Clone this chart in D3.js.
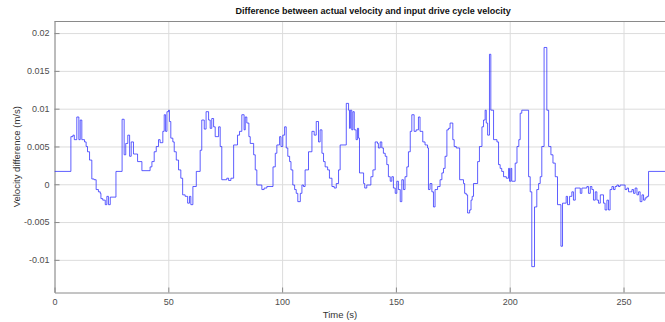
<!DOCTYPE html>
<html>
<head>
<meta charset="utf-8">
<script src="https://cdn.jsdelivr.net/npm/d3@7"></script>
<style>
  body { margin: 0; background: #fff; }
  svg { display: block; font-family: "Liberation Sans", Arial, sans-serif; }
  .grid line { stroke: #dcdcdc; stroke-width: 1; }
  .grid path { display: none; }
  .axis path, .axis line { stroke: #8a8a8a; }
  .axis text { fill: #4d4d4d; font-size: 9px; }
</style>
</head>
<body>
<script>
// breakpoints of the step signal (time in s, velocity difference in m/s)
const stepTimes = [0, 7.2, 8.1, 8.7, 9.8, 10.7, 11.3, 12.0, 13.2, 13.9, 14.5, 15.4, 16.4, 17.4, 18.3, 19.3, 20.1, 20.4, 21.2, 22.3,
  23.0, 23.7, 24.5, 27.0, 29.7, 30.6, 31.3, 32.2, 33.0, 33.7, 34.7, 36.5, 38.4, 42.0, 42.8, 43.8, 44.7, 45.7, 46.4, 47.6,
  48.2, 48.8, 49.4, 50.1, 50.5, 51.1, 52.0, 52.6, 53.5, 54.5, 55.5, 56.3, 57.4, 58.5, 59.3, 59.9, 60.8, 62.3, 64.0, 64.7,
  65.8, 66.6, 67.7, 68.4, 69.1, 69.9, 70.6, 72.1, 72.8, 73.5, 75.7, 76.5, 77.5, 78.7, 80.4, 81.3, 82.3, 83.3, 83.8, 84.5,
  85.4, 86.0, 87.5, 88.2, 88.9, 91.1, 92.1, 93.3, 96.0, 97.0, 97.7, 98.9, 99.5, 100.3, 101.1, 101.8, 102.5, 103.3, 103.9, 104.7,
  105.5, 106.2, 106.9, 108.0, 108.7, 109.4, 110.1, 111.6, 113.1, 114.1, 115.0, 116.0, 116.7, 117.5, 118.2, 118.9, 120.0, 120.8, 121.9, 122.9,
  123.8, 124.8, 125.5, 128.2, 129.2, 129.6, 130.0, 130.6, 131.1, 131.7, 132.5, 133.1, 133.6, 134.0, 135.8, 136.3, 137.2, 139.0, 139.9, 140.9,
  141.9, 142.3, 143.1, 143.8, 144.5, 145.3, 146.0, 146.7, 147.5, 148.2, 148.9, 149.7, 150.4, 151.1, 151.9, 152.6, 153.3, 154.0, 154.8, 155.5,
  156.3, 157.0, 158.0, 158.9, 159.9, 160.6, 161.8, 162.8, 163.9, 164.3, 165.0, 165.8, 166.5, 167.2, 168.3, 169.4, 170.2, 170.9, 171.6, 172.4,
  173.1, 173.8, 175.0, 175.6, 176.5, 178.0, 179.7, 180.2, 180.9, 181.5, 182.4, 183.0, 183.5, 184.1, 185.9, 186.7, 187.8, 188.5, 189.2, 189.7,
  190.3, 191.1, 191.7, 192.9, 194.4, 195.1, 195.8, 196.5, 197.3, 198.5, 199.5, 199.9, 200.5, 200.9, 202.4, 203.2, 204.0, 204.6, 205.3, 208.3,
  209.0, 209.7, 210.9, 211.9, 212.7, 213.4, 214.1, 215.1, 216.3, 217.1, 218.1, 219.0, 220.0, 221.0, 222.5, 223.2, 224.8, 225.4, 226.3, 227.3,
  228.0, 228.8, 231.0, 231.7, 233.9, 234.6, 235.4, 236.1, 236.8, 237.6, 238.3, 239.0, 239.8, 241.2, 241.9, 242.7, 243.4, 244.1, 244.9, 245.6,
  246.3, 247.1, 247.8, 248.5, 250.7, 251.5, 252.2, 253.7, 254.4, 255.1, 255.9, 256.6, 257.3, 258.1, 258.8, 259.5, 260.3, 261.0, 275]
const stepValues = [0.0017, 0.0063, 0.0065, 0.0059, 0.0089, 0.0059, 0.0085, 0.0059, 0.0056, 0.0050, 0.0043, 0.0032, 0.0007, 0.0006, -0.0007, -0.0010, -0.0012, -0.0019, -0.0021, -0.0027,
  -0.0016, -0.0027, -0.0017, 0.0017, 0.0086, 0.0039, 0.0054, 0.0065, 0.0037, 0.0056, 0.0040, 0.0030, 0.0018, 0.0023, 0.0030, 0.0043, 0.0050, 0.0059, 0.0055, 0.0070,
  0.0092, 0.0070, 0.0096, 0.0098, 0.0083, 0.0061, 0.0056, 0.0043, 0.0032, 0.0019, 0.0008, -0.0014, -0.0016, -0.0025, -0.0016, -0.0027, -0.0003, 0.0017, 0.0045, 0.0085,
  0.0073, 0.0096, 0.0085, 0.0074, 0.0087, 0.0076, 0.0063, 0.0076, 0.0050, 0.0006, 0.0008, 0.0005, 0.0008, 0.0052, 0.0065, 0.0070, 0.0092, 0.0072, 0.0089, 0.0081,
  0.0063, 0.0054, 0.0039, 0.0019, -0.0001, -0.0007, -0.0005, -0.0003, 0.0023, 0.0041, 0.0052, 0.0063, 0.0050, 0.0065, 0.0076, 0.0048, 0.0037, 0.0030, 0.0019, -0.0001,
  -0.0007, -0.0012, -0.0023, -0.0012, -0.0001, -0.0003, 0.0019, 0.0043, 0.0070, 0.0065, 0.0083, 0.0056, 0.0072, 0.0041, 0.0030, 0.0023, 0.0019, 0.0008, -0.0003, -0.0005,
  0.0001, 0.0019, 0.0052, 0.0107, 0.0098, 0.0074, 0.0098, 0.0072, 0.0096, 0.0072, 0.0059, 0.0074, 0.0061, 0.0015, 0.0001, -0.0005, -0.0001, 0.0010, 0.0019, 0.0056,
  0.0054, 0.0048, 0.0056, 0.0048, 0.0041, 0.0037, 0.0026, 0.0010, 0.0004, 0.0010, -0.0005, -0.0012, 0.0004, -0.0007, -0.0023, 0.0006, -0.0007, 0.0010, 0.0023, 0.0043,
  0.0070, 0.0092, 0.0070, 0.0072, 0.0089, 0.0070, 0.0056, 0.0052, 0.0048, -0.0007, 0.0001, -0.0010, -0.0030, -0.0007, -0.0003, 0.0006, 0.0015, 0.0021, 0.0037, 0.0072,
  0.0074, 0.0081, 0.0059, 0.0050, 0.0048, 0.0006, 0.0001, -0.0012, -0.0014, -0.0038, -0.0034, -0.0021, -0.0016, 0.0001, 0.0030, 0.0050, 0.0076, 0.0085, 0.0098, 0.0081,
  0.0065, 0.0172, 0.0098, 0.0059, 0.0056, 0.0026, 0.0021, 0.0017, 0.0010, 0.0008, 0.0021, 0.0004, 0.0021, 0.0004, 0.0028, 0.0050, 0.0059, 0.0094, 0.0098, 0.0010,
  -0.0010, -0.0109, -0.0030, -0.0007, 0.0001, 0.0010, 0.0050, 0.0181, 0.0098, 0.0050, 0.0039, 0.0028, 0.0010, -0.0027, -0.0082, -0.0025, -0.0016, -0.0027, -0.0016, -0.0010,
  -0.0021, -0.0005, -0.0012, -0.0005, -0.0003, -0.0012, -0.0003, -0.0007, -0.0021, -0.0010, -0.0021, -0.0025, -0.0014, -0.0025, -0.0034, -0.0021, -0.0034, -0.0007, -0.0003, -0.0007,
  -0.0003, -0.0001, -0.0003, -0.0001, -0.0007, -0.0005, -0.0010, -0.0007, -0.0012, -0.0005, -0.0014, -0.0010, -0.0023, -0.0014, -0.0021, -0.0018, -0.0016, 0.0017, 0.0017]

const xTicks = [0, 50, 100, 150, 200, 250]
const yTicks = [-0.01, -0.005, 0, 0.005, 0.01, 0.015, 0.02]

const W = 665, H = 322
const mLeft = 54.5, mTop = 21, mBottom = 292.5, mRight = 691.8

const svg = d3.select('body').append('svg').attr('width', W).attr('height', H)

const x = d3.scaleLinear().domain([0, 280]).range([mLeft, mRight])
const y = d3.scaleLinear().domain([-0.01432, 0.0216]).range([mBottom, mTop])

// grid
svg.append('g').attr('class', 'grid')
  .attr('transform', `translate(0, ${mBottom})`)
  .call(d3.axisBottom(x).tickValues(xTicks).tickSize(-(mBottom - mTop)).tickFormat(''))
svg.append('g').attr('class', 'grid')
  .attr('transform', `translate(${mLeft}, 0)`)
  .call(d3.axisLeft(y).tickValues(yTicks).tickSize(-(mRight - mLeft)).tickFormat(''))

// box top
svg.append('line').attr('x1', mLeft).attr('x2', mRight).attr('y1', mTop + 0.5).attr('y2', mTop + 0.5)
  .attr('stroke', '#8a8a8a')

const fmt = d => String(+d.toFixed(3))

svg.append('g').attr('class', 'axis')
  .attr('transform', `translate(0, ${mBottom})`)
  .call(d3.axisBottom(x).tickValues(xTicks).tickSize(-5).tickSizeOuter(0).tickPadding(6).tickFormat(fmt))
svg.append('g').attr('class', 'axis')
  .attr('transform', `translate(${mLeft}, 0)`)
  .call(d3.axisLeft(y).tickValues(yTicks).tickSize(-5).tickSizeOuter(0).tickPadding(5).tickFormat(fmt))

// signal
svg.append('clipPath').attr('id', 'clip')
  .append('rect').attr('x', mLeft).attr('y', mTop).attr('width', mRight - mLeft).attr('height', mBottom - mTop)

const pts = stepTimes.map((t, i) => [t, stepValues[i]])
const line = d3.line().x(d => x(d[0])).y(d => y(d[1])).curve(d3.curveStepAfter)

svg.append('path')
  .attr('clip-path', 'url(#clip)')
  .attr('d', line(pts))
  .attr('fill', 'none')
  .attr('stroke', '#2a2aff')
  .attr('stroke-width', 0.75)

// texts
svg.append('text')
  .attr('x', (mLeft + mRight) / 2).attr('y', 14)
  .attr('text-anchor', 'middle')
  .attr('font-size', 9).attr('font-weight', 'bold').attr('fill', '#111')
  .text('Difference between actual velocity and input drive cycle velocity')

svg.append('text')
  .attr('x', 340).attr('y', 318)
  .attr('text-anchor', 'middle')
  .attr('font-size', 9.5).attr('fill', '#333')
  .text('Time (s)')

svg.append('text')
  .attr('transform', `translate(20, ${(mTop + mBottom) / 2}) rotate(-90)`)
  .attr('text-anchor', 'middle')
  .attr('font-size', 9.5).attr('fill', '#333')
  .text('Velocity difference (m/s)')
</script>
</body>
</html>
